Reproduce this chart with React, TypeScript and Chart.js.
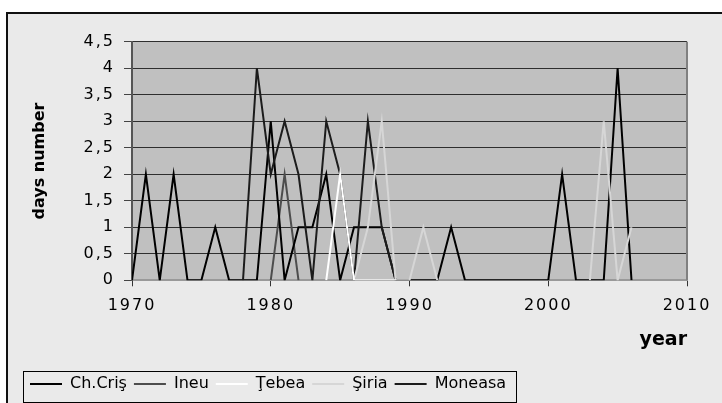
import React, { useEffect, useRef } from 'react';
import { Chart, registerables } from 'chart.js';

Chart.register(...registerables);

const years = [
  1970, 1971, 1972, 1973, 1974, 1975, 1976, 1977, 1978, 1979,
  1980, 1981, 1982, 1983, 1984, 1985, 1986, 1987, 1988, 1989,
  1990, 1991, 1992, 1993, 1994, 1995, 1996, 1997, 1998, 1999,
  2000, 2001, 2002, 2003, 2004, 2005, 2006,
];

const chCris = [
  0, 2, 0, 2, 0, 0, 1, 0, 0, 0,
  3, 0, 1, 1, 2, 0, 1, 1, 1, 0,
  0, 0, 0, 1, 0, 0, 0, 0, 0, 0,
  0, 2, 0, 0, 0, 4, 0,
];

const ineu = [
  null, null, null, null, null, null, null, null, null, null,
  0, 2, 0, null, null, null, null, null, null, null,
  null, null, null, null, null, null, null, null, null, null,
  null, null, null, null, null, null, null,
];

const tebea = [
  null, null, null, null, null, null, null, null, null, null,
  null, null, null, null, 0, 2, 0, 0, 0, 0,
  null, null, null, null, null, null, null, null, null, null,
  null, null, null, null, null, null, null,
];

const siria = [
  null, null, null, null, null, null, null, null, null, null,
  null, null, null, null, null, null, 0, 1, 3, 0,
  0, 1, 0, null, null, null, null, null, null, null,
  null, null, null, 0, 3, 0, 1,
];

const moneasa = [
  null, null, null, null, null, null, null, null, 0, 4,
  2, 3, 2, 0, 3, 2, 0, 3, 1, 0,
  null, null, null, null, null, null, null, null, null, null,
  null, null, null, null, null, null, null,
];

const seriesNames = ['Ch.Criş', 'Ineu', 'Ţebea', 'Şiria', 'Moneasa'];
const seriesValues = [chCris, ineu, tebea, siria, moneasa];
const seriesColors = ['#000000', '#4d4d4d', '#ffffff', '#d6d6d6', '#1c1c1c'];
const seriesOrder = [2, 3, 0, 1, 1];

const xMin = 1970;
const xMax = 2010;
const xStep = 10;
const yMin = 0;
const yMax = 4.5;
const yStep = 0.5;

const FONT = "'DejaVu Sans', 'Liberation Sans', Arial, sans-serif";

const decoPlugin = {
  id: 'deco',
  beforeDraw(chart: any) {
    const { ctx, chartArea } = chart;
    ctx.save();
    ctx.fillStyle = '#c0c0c0';
    ctx.fillRect(chartArea.left, chartArea.top, chartArea.right - chartArea.left, chartArea.bottom - chartArea.top);
    ctx.restore();
  },
  afterDatasetsDraw(chart: any) {
    // tick labels (drawn in a later layer) get the wide spacing of the original picture
    (chart.ctx as any).letterSpacing = '2px';
  },
  afterDraw(chart: any) {
    const { ctx, chartArea } = chart;
    (ctx as any).letterSpacing = '0px';
    ctx.save();
    ctx.strokeStyle = '#808080';
    ctx.lineWidth = 2;
    ctx.beginPath();
    ctx.moveTo(chartArea.right, chartArea.top);
    ctx.lineTo(chartArea.right, chartArea.bottom);
    ctx.stroke();
    const lg = chart.legend;
    if (lg && lg.legendHitBoxes && lg.legendHitBoxes.length) {
      const hb = lg.legendHitBoxes;
      const first = hb[0];
      const last = hb[hb.length - 1];
      const l = first.left - 7;
      const r = last.left + last.width + 10;
      const t = first.top - 5;
      const b = first.top + 26;
      ctx.strokeStyle = '#000';
      ctx.lineWidth = 1;
      ctx.strokeRect(Math.round(l) + 0.5, Math.round(t) + 0.5, Math.round(r - l), Math.round(b - t));
    }
    ctx.restore();
  },
};

export default function App() {
  const ref = useRef<HTMLCanvasElement | null>(null);

  useEffect(() => {
    if (!ref.current) return;
    const datasets = seriesNames.map((name, i) => ({
      label: name,
      data: years.map((yr, j) => ({ x: yr, y: seriesValues[i][j] })),
      borderColor: seriesColors[i],
      backgroundColor: seriesColors[i],
      borderWidth: 2,
      pointRadius: 0,
      pointHoverRadius: 0,
      tension: 0,
      spanGaps: false,
      order: seriesOrder[i],
    }));

    const chart = new Chart(ref.current, {
      type: 'line',
      data: { datasets },
      plugins: [decoPlugin],
      options: {
        animation: false,
        responsive: false,
        maintainAspectRatio: false,
        layout: { padding: { left: 23, top: 41.7, right: 35, bottom: 1 } },
        plugins: {
          tooltip: { enabled: false },
          legend: {
            display: true,
            position: 'bottom',
            align: 'start',
            labels: {
              usePointStyle: true,
              pointStyle: 'line',
              pointStyleWidth: 32,
              padding: 7,
              color: '#000',
              font: { family: FONT, size: 16 },
              sort: (a: any, b: any) => a.datasetIndex - b.datasetIndex,
            },
          },
        },
        scales: {
          x: {
            type: 'linear',
            min: xMin,
            max: xMax,
            afterFit(scale: any) { scale.height = 88.7; },
            ticks: {
              stepSize: xStep,
              padding: 10,
              z: 1,
              color: '#000',
              font: { family: FONT, size: 16 },
              maxRotation: 0,
              callback: (v: any) => String(v),
            },
            grid: {
              drawOnChartArea: false,
              drawTicks: true,
              tickLength: 6,
              tickColor: '#333',
            },
            border: { display: true, color: '#999', width: 2 },
            title: {
              display: true,
              text: 'year',
              align: 'end',
              color: '#000',
              font: { family: FONT, size: 19, weight: 'bold' },
              padding: { top: 0, bottom: 17.6 },
            },
          },
          y: {
            type: 'linear',
            min: yMin,
            max: yMax,
            afterFit(scale: any) { scale.width = 109; },
            ticks: {
              stepSize: yStep,
              padding: 9,
              z: 1,
              color: '#000',
              font: { family: FONT, size: 16 },
              callback: (v: any) => String(v).replace('.', ','),
            },
            grid: {
              drawOnChartArea: true,
              drawTicks: true,
              tickLength: 8,
              color: '#2e2e2e',
              tickColor: '#444',
              lineWidth: 1,
            },
            border: { display: true, color: '#555', width: 2 },
            title: {
              display: true,
              text: 'days number',
              color: '#000',
              font: { family: FONT, size: 16, weight: 'bold' },
              padding: { top: 7.4, bottom: 0 },
            },
          },
        },
      },
    });
    return () => chart.destroy();
  }, []);

  return (
    <div style={{ position: 'absolute', left: 0, top: 0, width: 722, height: 403, overflow: 'hidden', background: '#fff' }}>
      <div
        style={{
          position: 'absolute',
          left: 6,
          top: 12,
          width: 730,
          height: 420,
          borderLeft: '2px solid #111',
          borderTop: '2px solid #111',
          background: '#eaeaea',
        }}
      />
      <canvas ref={ref} width={722} height={403} style={{ position: 'absolute', left: 0, top: 0, width: 722, height: 403 }} />
    </div>
  );
}
